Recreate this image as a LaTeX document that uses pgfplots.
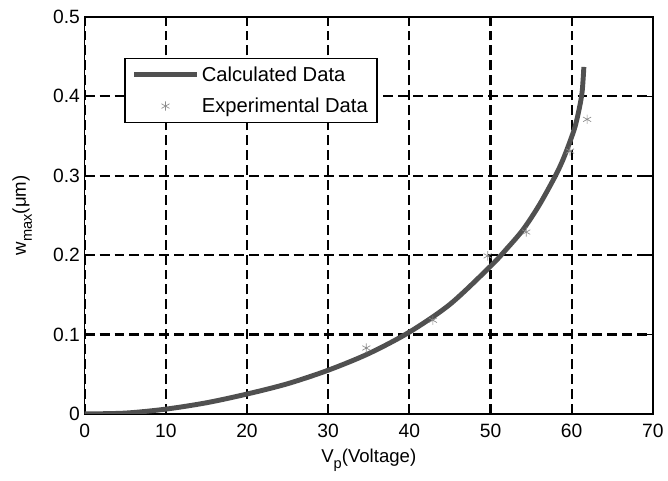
\documentclass[border=0pt]{standalone}
\usepackage{fontspec}
\setmainfont{Liberation Sans}
\usepackage{pgfplots}
\pgfplotsset{compat=1.18}

\definecolor{curvegray}{HTML}{505050}
\definecolor{markgray}{HTML}{8C8C8C}

\newcommand{\sub}[1]{\raisebox{-4.5pt}{\fontsize{11}{12}\selectfont #1}}

\pgfplotsset{
    longline legend/.style={legend image code/.code={\draw[##1] (0pt,0pt) -- (47pt,0pt);}},
    onemark legend/.style={legend image code/.code={\draw[##1, only marks] plot coordinates {(23.5pt,0pt)};}},
}

\begin{document}
\begin{tikzpicture}
\begin{axis}[
    scale only axis,
    width=428pt, height=299pt,
    xmin=0, xmax=70, ymin=0, ymax=0.5,
    xtick={0,10,...,70},
    ytick={0,0.1,0.2,0.3,0.4,0.5},
    /pgf/number format/assume math mode=true,
    /pgf/number format/fixed,
    font=\fontsize{14}{16}\selectfont,
    tick label style={font=\fontsize{14.5}{16}\selectfont},
    xticklabel style={yshift=-4pt},
    xlabel={V\sub{p}(Voltage)},
    ylabel={w\sub{max}(μm)},
    xlabel style={at={(axis description cs:0.5,-0.117)}, anchor=center},
    ylabel style={at={(axis description cs:-0.11,0.5)}, anchor=center},
    axis line style={black, line width=1.2pt},
    tick style={black, line width=1.2pt},
    tick align=inside,
    major tick length=6pt,
    grid=major,
    grid style={black, line width=1.6pt, dash pattern=on 7.5pt off 3.75pt},
    legend style={at={(0.07,0.897)}, anchor=north west,
        draw=black, line width=1.2pt, fill=white,
        font=\fontsize{15.2}{17}\selectfont,
        inner xsep=5pt, inner ysep=4pt, row sep=7pt},
    legend cell align=left,
]
\addplot[curvegray, line width=3.7pt, smooth, longline legend] coordinates {
    (0,0)(5,0.001)(10,0.006)(15,0.014)(20,0.025)(25,0.038)(30,0.055)
    (35,0.076)(40,0.103)(45,0.138)(50,0.186)(52,0.208)(54,0.232)
    (56,0.263)(58,0.300)(59,0.322)(60,0.349)(60.5,0.365)(61,0.388)
    (61.3,0.407)(61.5,0.437)
};
\addlegendentry{Calculated Data}
\addplot[only marks, mark=asterisk, mark size=3.5pt, markgray, line width=0.5pt, onemark legend] coordinates {
    (34.7,0.083)(42.9,0.118)(49.65,0.199)(54.4,0.229)(59.8,0.331)(61.9,0.371)
};
\addlegendentry{Experimental Data}
\end{axis}
\path (current axis.south west) ++(-63.75pt,-50.25pt);
\path (current axis.north east) ++(9pt,12.75pt);
\end{tikzpicture}
\end{document}
